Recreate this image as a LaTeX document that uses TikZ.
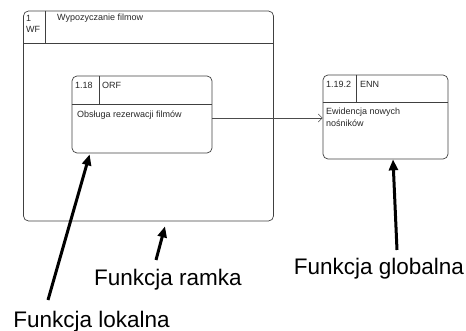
\documentclass[tikz,border=0pt]{standalone}
\usepackage{fontspec}
\setmainfont{Liberation Sans}
\usetikzlibrary{arrows.meta,calc}

\begin{document}
\begin{tikzpicture}[x=1pt,y=-1pt,
    fun/.style={draw=black!75,line width=0.7pt,rounded corners=5pt,inner sep=0pt},
    sep/.style={draw=black!75,line width=0.7pt},
    small/.style={font=\fontsize{9}{10.5}\selectfont,inner sep=0pt,anchor=base west,text=black!85},
    big/.style={font=\fontsize{22.5}{26}\selectfont,inner sep=0pt,anchor=base},
    flow/.style={draw=black!70,line width=0.6pt,-{Straight Barb[length=4pt,width=8pt]}},
    pointer/.style={line width=3pt,-{Triangle[length=11pt,width=9pt]}}]
    \useasboundingbox (0,0) rectangle (466,331);
    % funkcja ramka
    \node[fun,minimum width=250pt,minimum height=210pt] (wf) at (148.5,116) {};
    \draw[sep] ($(wf.north west)+(0,33)$) -- ($(wf.north east)+(0,33)$); % naglowek
    \draw[sep] ($(wf.north west)+(22.5,0)$) -- ($(wf.north west)+(22.5,33)$);
    \node[small] (wfnr) at (26,22) {1};
    \node[small] (wfkod) at (26,33) {WF};
    \node[small] (wfnazwa) at (57,21) {Wypozyczanie filmow};
    % funkcja lokalna
    \node[fun,minimum width=140pt,minimum height=77pt] (orf) at (142,114.5) {};
    \draw[sep] ($(orf.north west)+(0,29)$) -- ($(orf.north east)+(0,29)$);
    \draw[sep] ($(orf.north west)+(28,0)$) -- ($(orf.north west)+(28,29)$);
    \node[small] (orfnr) at (75,89) {1.18};
    \node[small] (orfkod) at (102,89) {ORF};
    \node[small] (orfnazwa) at (77,118) {Obsługa rezerwacji filmów};
    % funkcja globalna
    \node[fun,minimum width=125pt,minimum height=84pt] (enn) at (385.5,117) {};
    \draw[sep] ($(enn.north west)+(0,28)$) -- ($(enn.north east)+(0,28)$);
    \draw[sep] ($(enn.north west)+(34,0)$) -- ($(enn.north west)+(34,28)$);
    \node[small] (ennnr) at (326,88) {1.19.2};
    \node[small] (ennkod) at (360,88) {ENN};
    \node[small] (ennnazwa) at (326,115) {Ewidencja nowych};
    \node[small] (ennnazwa2) at (326,127) {nośników};
    \draw[flow] ([yshift=-3.5pt]orf.east) -- ([yshift=-3.5pt]orf.east -| enn.west); % przeplyw
    % opisy
    \node[big] (lok) at (91.5,327) {Funkcja lokalna};
    \node[big] (ram) at (168,285) {Funkcja ramka};
    \node[big] (glob) at (379,275) {Funkcja globalna};
    \coordinate (lokpocz) at (48,300);
    \coordinate (rampocz) at (156,260);
    \coordinate (globpocz) at (397,250);
    \draw[pointer] (lokpocz) -- ([xshift=18pt,yshift=-1pt]orf.south west);
    \draw[pointer] (rampocz) -- ([xshift=16.5pt,yshift=-5pt]wf.south);
    \draw[pointer] (globpocz) -- ([xshift=7.5pt]enn.south);
\end{tikzpicture}
\end{document}
